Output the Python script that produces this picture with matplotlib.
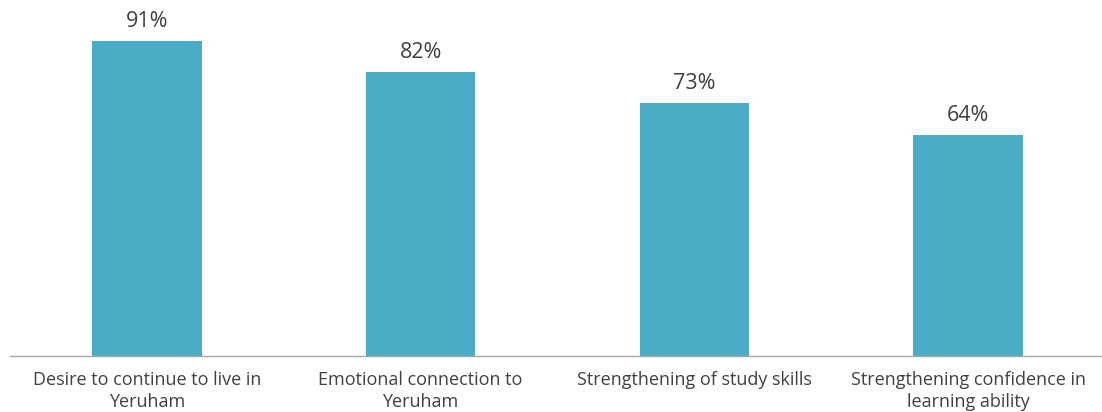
import matplotlib
matplotlib.use("Agg")
import matplotlib.pyplot as plt

categories = ["Desire to continue to live in\nYeruham",
              "Emotional connection to\nYeruham",
              "Strengthening of study skills",
              "Strengthening confidence in\nlearning ability"]
values = [91, 82, 73, 64]
value_labels = ["91%", "82%", "73%", "64%"]

plt.rcParams['font.family'] = ['Open Sans', 'DejaVu Sans']

fig = plt.figure(figsize=(11.02, 4.12), dpi=100)
W, H = 1102, 412
left, right, bottom, top = 10, 1105, 356, 10
ax = fig.add_axes([left / W, 1 - bottom / H, (right - left) / W, (bottom - top) / H])

x = list(range(len(categories)))
bars = ax.bar(x, values, width=0.4, color="#4BACC6")
ax.set_xlim(-0.5, 3.5)
ax.set_ylim(0, 100)

for xi, v, lab in zip(x, values, value_labels):
    ax.annotate(lab, (xi, v), xytext=(0, 6.5), textcoords="offset points",
                ha="center", va="bottom", fontsize=15.5, color="#404040")

ax.set_xticks(x)
ax.set_xticklabels(categories, fontsize=13, color="#404040", linespacing=1.3)
ax.tick_params(axis="x", length=0, pad=11)
ax.set_yticks([])
for s in ["top", "right", "left"]:
    ax.spines[s].set_visible(False)
ax.spines["bottom"].set_color("#A6A6A6")
ax.spines["bottom"].set_linewidth(1.0)

fig.savefig("out.png", dpi=100)
